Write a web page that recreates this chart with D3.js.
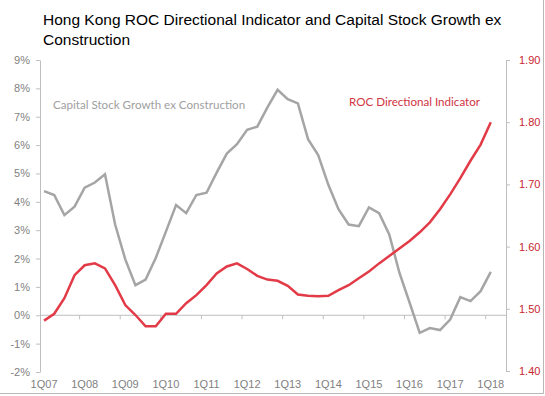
<!DOCTYPE html>
<meta charset="utf-8">
<style>
body { margin: 0; background: #fff; }
svg { display: block; font-family: "Liberation Sans", Arial, sans-serif; }
.title { font-size: 15.5px; fill: #000; }
.axis path, .axis line { stroke: #bfbfbf; }
.left text { fill: #7f7f7f; font-size: 11px; }
.right text { fill: #c8262f; font-size: 11px; }
.xlab { fill: #7f7f7f; font-size: 11px; text-anchor: middle; }
.note { font-family: Lato, "Open Sans", sans-serif; font-size: 11.6px; }
</style>
<svg width="545" height="396"></svg>
<script src="https://cdn.jsdelivr.net/npm/d3@7"></script>
<script>

// quarters 1Q07 .. 2Q18 (last slot is empty on the chart)
var quarters = [];
for (let yr = 7; yr <= 18; yr++) {
	for (let q = 1; q <= 4; q++) {
		if (yr == 18 && q > 2) break;
		quarters.push(q + "Q" + (yr < 10 ? "0" + yr : yr));
	}
}

var capitalStock = [4.38, 4.24, 3.53, 3.83, 4.50, 4.68, 4.97, 3.20, 1.97, 1.06,
	1.26, 2.02, 2.95, 3.89, 3.60, 4.24, 4.32, 5.03, 5.70, 6.03,
	6.54, 6.65, 7.33, 7.95, 7.62, 7.47, 6.21, 5.65, 4.60, 3.74,
	3.20, 3.14, 3.80, 3.60, 2.85, 1.50, 0.45, -0.62, -0.45, -0.52,
	-0.15, 0.64, 0.50, 0.85, 1.53];

var rocIndicator = [1.481, 1.492, 1.517, 1.554, 1.570, 1.573, 1.565, 1.538, 1.506, 1.490,
	1.472, 1.472, 1.492, 1.492, 1.509, 1.522, 1.538, 1.557, 1.568, 1.573,
	1.564, 1.553, 1.547, 1.545, 1.537, 1.523, 1.521, 1.520, 1.521, 1.530,
	1.538, 1.549, 1.560, 1.573, 1.585, 1.597, 1.609, 1.623, 1.639, 1.660,
	1.684, 1.710, 1.738, 1.764, 1.800];

var leftTicks = [-2, -1, 0, 1, 2, 3, 4, 5, 6, 7, 8, 9];
var rightTicks = [1.4, 1.5, 1.6, 1.7, 1.8, 1.9];
var xLabels = ["1Q07", "1Q08", "1Q09", "1Q10", "1Q11", "1Q12", "1Q13", "1Q14", "1Q15", "1Q16", "1Q17", "1Q18"];

var svg = d3.select("svg");

svg.append("text").attr("class", "title").attr("x", 43).attr("y", 25)
	.text("Hong Kong ROC Directional Indicator and Capital Stock Growth ex");
svg.append("text").attr("class", "title").attr("x", 43).attr("y", 45)
	.text("Construction");

let x = d3.scaleBand().domain(quarters).range([39, 506]);
let yL = d3.scaleLinear().domain([-2, 9]).range([372, 60]);
let yR = d3.scaleLinear().domain([1.4, 1.9]).range([371, 60]);
let cx = function(i) { return x(quarters[i]) + x.bandwidth() / 2; };

svg.append("g").attr("class", "axis left")
	.attr("transform", "translate(40,0)")
	.call(d3.axisLeft(yL).tickValues(leftTicks).tickSize(4).tickSizeOuter(0).tickPadding(6)
		.tickFormat(function(d) { return d + "%"; }));

svg.append("g").attr("class", "axis right")
	.attr("transform", "translate(506,0)")
	.call(d3.axisRight(yR).tickValues(rightTicks).tickSize(4).tickSizeOuter(0).tickPadding(9)
		.tickFormat(d3.format(".2f")));

// category axis sits on the 0% line
let xg = svg.append("g").attr("class", "axis");
xg.append("line").attr("x1", 40).attr("x2", 506).attr("y1", yL(0)).attr("y2", yL(0));
xg.selectAll(".tk").data(xLabels.slice(1)).enter().append("line")
	.attr("x1", function(d) { return x(d); }).attr("x2", function(d) { return x(d); })
	.attr("y1", yL(0)).attr("y2", yL(0) + 4);

svg.selectAll(".xlab").data(xLabels).enter().append("text")
	.attr("class", "xlab")
	.attr("x", function(d) { return x(d) + x.bandwidth() / 2; })
	.attr("y", 388)
	.text(function(d) { return d; });

let grayLine = d3.line().x(function(d, i) { return cx(i); }).y(function(d) { return yL(d); });
let redLine = d3.line().x(function(d, i) { return cx(i); }).y(function(d) { return yR(d); });

svg.append("path").datum(capitalStock).attr("d", grayLine)
	.attr("fill", "none").attr("stroke", "#a5a5a5").attr("stroke-width", 2.5);
svg.append("path").datum(rocIndicator).attr("d", redLine)
	.attr("fill", "none").attr("stroke", "#e23b47").attr("stroke-width", 2.5);

svg.append("text").attr("class", "note").attr("x", 53).attr("y", 109)
	.attr("fill", "#a0a0a0").text("Capital Stock Growth ex Construction");
svg.append("text").attr("class", "note").attr("x", 349).attr("y", 106)
	.attr("fill", "#d0353f").text("ROC Directional Indicator");

// chart frame: only bottom and right edges show
svg.append("path").attr("d", "M0,393.5H543.5V0")
	.attr("fill", "none").attr("stroke", "#b8b8b8");

</script>
